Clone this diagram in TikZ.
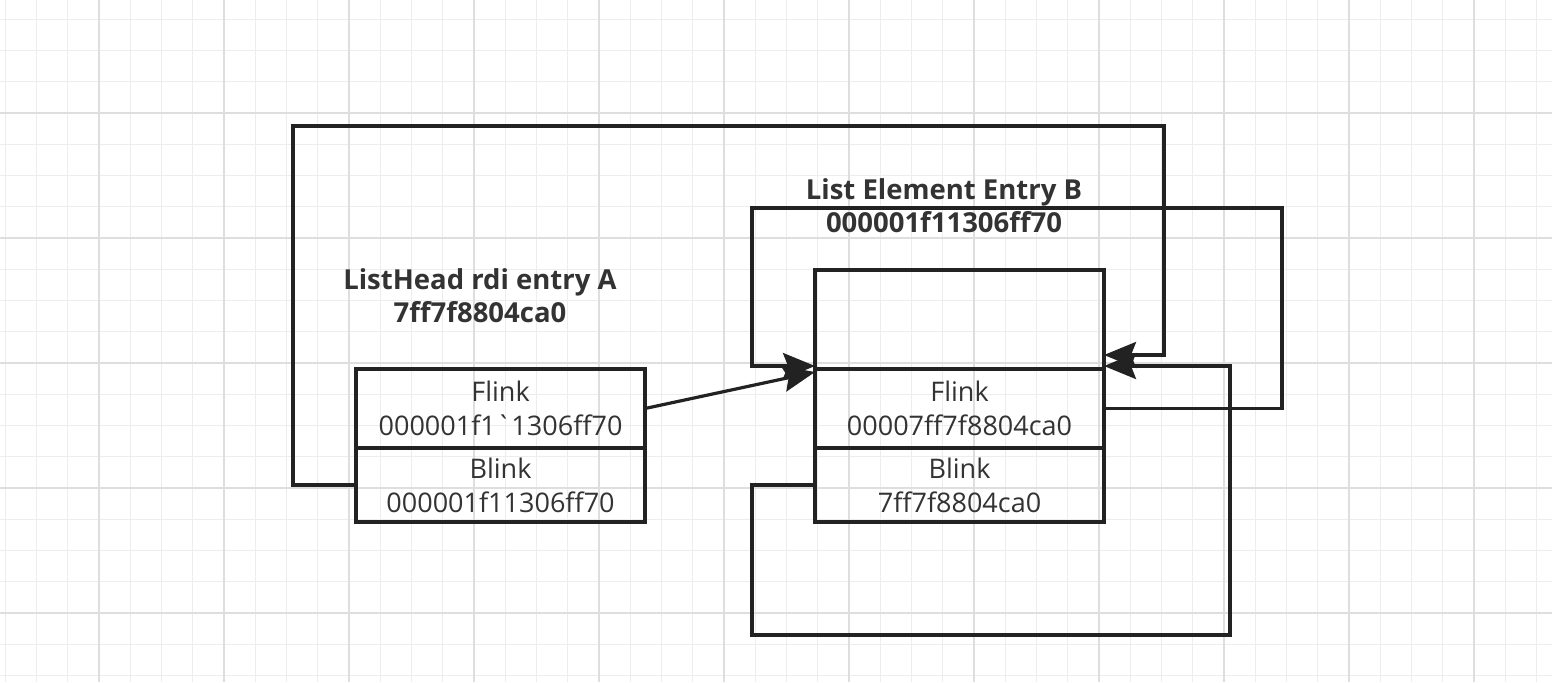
\documentclass[tikz,border=0pt]{standalone}
\usepackage{fontspec}
\setmainfont{Open Sans}
\usetikzlibrary{positioning,arrows.meta}
\definecolor{gridminor}{HTML}{EDEDED}
\definecolor{gridmajor}{HTML}{DEDEDE}
\definecolor{ink}{HTML}{222222}
\definecolor{txt}{HTML}{333333}

\begin{document}
\begin{tikzpicture}[x=0.5pt,y=-0.5pt,
    cell/.style={draw=ink,line width=1.6pt,outer sep=0pt,inner sep=0pt,minimum width=144.5pt,
      align=center,text=txt,font=\fontsize{13.5}{17}\selectfont},
    title/.style={align=center,text=txt,font=\fontsize{13.75}{16.5}\selectfont\bfseries},
    link/.style={draw=ink,line width=1.6pt,-{Stealth[length=16pt,width=13pt,inset=2.5pt]}}]
    \useasboundingbox[fill=white] (0,0) rectangle (1552,682);
    % paper grid
    \foreach \k in {0,...,49} \draw[gridminor,line width=0.5pt] ({5+31.25*\k},0) -- ({5+31.25*\k},682);
    \foreach \k in {0,...,21} \draw[gridminor,line width=0.5pt] (0,{19.25+31.25*\k}) -- (1552,{19.25+31.25*\k});
    \foreach \k in {0,...,11} \draw[gridmajor,line width=0.6pt] ({99+125*\k},0) -- ({99+125*\k},682);
    \foreach \k in {0,...,4} \draw[gridmajor,line width=0.6pt] (0,{113+125*\k}) -- (1552,{113+125*\k});
    % list head A
    \node[cell,minimum height=39.5pt] (headF) at (500.5,408.5) {Flink\\000001f1\textasciigrave1306ff70};
    \node[cell,minimum height=37pt,below=0pt of headF] (headB) {Blink\\000001f11306ff70};
    % entry B
    \node[cell,minimum height=49.5pt] (entTop) at (959.5,319.5) {};
    \node[cell,minimum height=39.5pt,below=0pt of entTop] (entF) {Flink\\00007ff7f8804ca0};
    \node[cell,minimum height=37pt,below=0pt of entF] (entB) {Blink\\7ff7f8804ca0};
    % links
    \draw[link] (headF.east) -- ([yshift=-1.5pt]entF.north west);
    \draw[link] (headB.west) -| (293,126) -| (1164,355) -- ([yshift=7pt]entF.north east);
    \draw[link] (entF.east) -- ++(178,0) |- (752,208) |- ([yshift=1.5pt]entF.north west);
    \draw[link] (entB.west) -- ++(-63,0) |- (1230,635) |- ([yshift=1.5pt]entF.north east);
    % titles
    \node[title] (headTitle) at (480,296) {ListHead rdi entry A\\7ff7f8804ca0};
    \node[title] (entTitle) at (944,206) {List Element Entry B\\000001f11306ff70};
\end{tikzpicture}
\end{document}
